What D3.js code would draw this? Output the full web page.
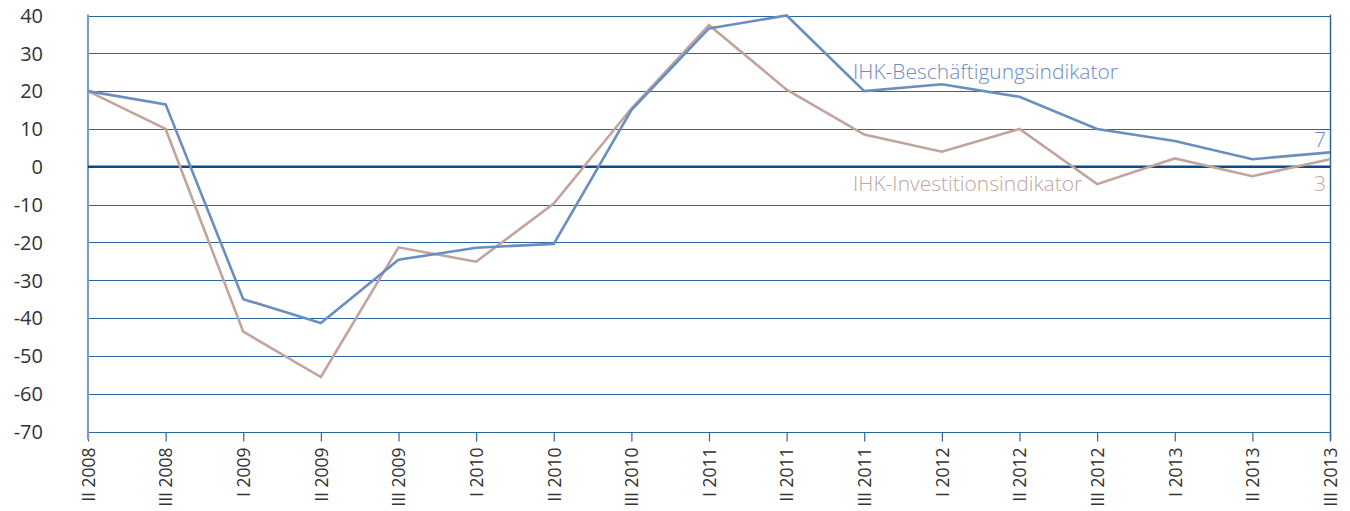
<!DOCTYPE html>
<html>
<head>
<meta charset="utf-8">
<script src="https://cdn.jsdelivr.net/npm/d3@7"></script>
<style>
  body { margin: 0; background: #fff; }
  svg { display: block; font-family: 'Open Sans', 'Noto Sans', sans-serif; }
</style>
</head>
<body>
<svg id="graph" width="1350" height="511"></svg>
<script>
const quarters = ['II 2008', 'III 2008', 'I 2009', 'II 2009', 'III 2009', 'I 2010', 'II 2010',
  'III 2010', 'I 2011', 'II 2011', 'III 2011', 'I 2012', 'II 2012', 'III 2012', 'I 2013', 'II 2013', 'III 2013'];
const beschaeftigung = [20, 16.5, -35, -41.3, -24.6, -21.4, -20.4, 15, 36.6, 40, 20, 21.8, 18.5, 10, 6.8, 2, 3.8];
const investition = [20, 10, -43.6, -55.6, -21.3, -25.1, -9.7, 15.4, 37.5, 20.4, 8.5, 4, 10, -4.6, 2.2, -2.5, 2];
const yTicks = [40, 30, 20, 10, 0, -10, -20, -30, -40, -50, -60, -70];

(function() {
const svg = d3.select('#graph');
const x0 = 88, x1 = 1330, y0 = 15.5, y1 = 431.5;
const blue = '#6b8dc0', tan = '#c1a59c', grid = '#2a66a0';
const font = "'Open Sans', 'Noto Sans', sans-serif";

const x = d3.scalePoint().domain(quarters).range([x0, x1]);
const y = d3.scaleLinear().domain([-70, 40]).range([y1, y0]);

// grid lines
svg.append('g')
  .selectAll('line')
  .data(yTicks.filter(d => d !== 0))
  .join('line')
  .attr('x1', x0).attr('x2', x1)
  .attr('y1', d => Math.round(y(d)) + 0.5).attr('y2', d => Math.round(y(d)) + 0.5)
  .attr('stroke', grid).attr('stroke-width', 1.2);

// y labels
const yAxis = svg.append('g')
  .attr('transform', `translate(${x0}, 0)`)
  .call(d3.axisLeft(y).tickValues(yTicks).tickSize(0).tickPadding(45))
  .attr('font-family', font);
yAxis.select('.domain').remove();
yAxis.selectAll('text').attr('font-size', 20).attr('fill', '#333').attr('dy', '0.34em')
  .text(d => d < 0 ? '-' + Math.abs(d) : d);

// x axis
const xAxis = svg.append('g')
  .attr('transform', `translate(0, ${Math.round(y(-70)) + 0.5})`)
  .call(d3.axisBottom(x).tickSize(9).tickPadding(0))
  .attr('font-family', font);
xAxis.select('.domain').remove();
xAxis.selectAll('line').attr('stroke', grid).attr('stroke-width', 1.2);
xAxis.selectAll('text')
  .attr('font-size', 17.5).attr('fill', '#333')
  .attr('transform', 'rotate(-90)')
  .attr('text-anchor', 'end')
  .attr('x', -15).attr('y', 0).attr('dy', '0.36em');

// left and right vertical lines
svg.append('line').attr('x1', x0).attr('x2', x0).attr('y1', y0 - 1).attr('y2', y1 + 8)
  .attr('stroke', '#7aa0c6').attr('stroke-width', 2.2);
svg.append('line').attr('x1', x1 + 0.5).attr('x2', x1 + 0.5).attr('y1', y0 - 1).attr('y2', y1 + 9)
  .attr('stroke', grid).attr('stroke-width', 1.5);

// zero line
svg.append('line').attr('x1', x0).attr('x2', x1)
  .attr('y1', y(0)).attr('y2', y(0))
  .attr('stroke', '#0d4a86').attr('stroke-width', 2.6);

const line = d3.line()
  .x((d, i) => x(quarters[i]))
  .y(d => y(d))
  .curve(d3.curveLinear);

svg.append('path').attr('d', line(investition))
  .attr('fill', 'none').attr('stroke', tan).attr('stroke-width', 2.6);
svg.append('path').attr('d', line(beschaeftigung))
  .attr('fill', 'none').attr('stroke', blue).attr('stroke-width', 2.6);

// series labels
svg.append('text').attr('x', 853).attr('y', 79).attr('font-size', 21).attr('font-weight', 300)
  .attr('fill', blue).text('IHK-Beschäftigungsindikator');
svg.append('text').attr('x', 853).attr('y', 191).attr('font-size', 21).attr('font-weight', 300)
  .attr('fill', tan).text('IHK-Investitionsindikator');
svg.append('text').attr('x', 1326).attr('y', 147).attr('font-size', 21).attr('font-weight', 300)
  .attr('text-anchor', 'end').attr('fill', blue).text('7');
svg.append('text').attr('x', 1326).attr('y', 191).attr('font-size', 21).attr('font-weight', 300)
  .attr('text-anchor', 'end').attr('fill', tan).text('3');
})();
</script>
</body>
</html>
